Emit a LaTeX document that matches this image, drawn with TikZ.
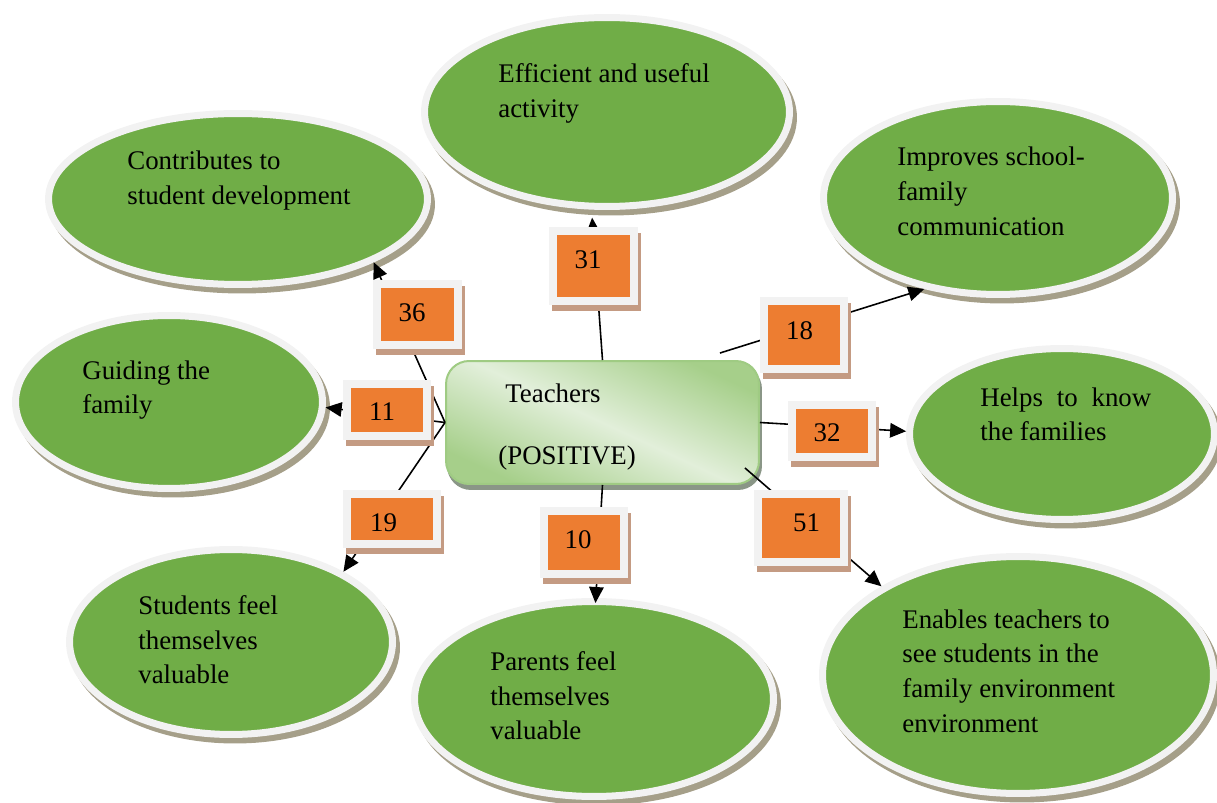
\documentclass[tikz,border=0pt]{standalone}
\usepackage{fontspec}
\setmainfont{Liberation Serif}
\usetikzlibrary{arrows.meta,shapes.geometric,calc}

\definecolor{leaf}{HTML}{70AD47}
\definecolor{rim}{HTML}{F2F2F2}
\definecolor{rimshade}{HTML}{A59F89}
\definecolor{tag}{HTML}{ED7D31}
\definecolor{tagshade}{HTML}{C49B83}
\definecolor{hubdark}{HTML}{A6CF8A}
\definecolor{hublight}{HTML}{E2EFDA}
\definecolor{hubedge}{HTML}{9FCB83}
\definecolor{hubshade}{HTML}{8A9687}

\begin{document}
\begin{tikzpicture}[x=0.02cm,y=-0.02cm,
  bubble/.style={ellipse, fill=leaf, draw=rim, line width=0.14cm, inner sep=0pt,
    preaction={fill=rimshade, draw=rimshade,
      transform canvas={xshift=0.08cm,yshift=-0.11cm}}},
  tagbox/.style={rectangle, fill=tag, draw=rim, line width=0.16cm, inner sep=0pt,
    preaction={fill=tagshade, draw=tagshade,
      transform canvas={xshift=0.06cm,yshift=-0.12cm}}},
  hubbox/.style={rectangle, rounded corners=0.46cm, draw=hubedge, line width=0.04cm,
    inner sep=0pt, shading=axis, top color=hubdark, bottom color=hubdark,
    middle color=hublight, shading angle=-25,
    preaction={fill=hubshade, draw=hubshade,
      transform canvas={xshift=0.04cm,yshift=-0.1cm}}},
  txt/.style={font=\fontsize{15.3}{19.8}\selectfont, inner sep=0pt, align=left,
    anchor=north west},
  num/.style={font=\fontsize{15.3}{19.8}\selectfont, inner sep=0pt},
  link/.style={line width=0.9pt, -{Triangle[length=0.32cm,width=0.29cm]}}]

\useasboundingbox (0,0) rectangle (1217,803);

% outcome bubbles
\node[bubble, minimum width=7.30cm, minimum height=3.78cm] (e1) at (607,112) {};
\node[bubble, minimum width=7.58cm, minimum height=3.42cm] (e2) at (238,199) {};
\node[bubble, minimum width=6.98cm, minimum height=3.86cm] (e3) at (998,198) {};
\node[bubble, minimum width=6.14cm, minimum height=3.46cm] (e4) at (169,402) {};
\node[bubble, minimum width=6.10cm, minimum height=3.42cm] (e5) at (1062,434) {};
\node[bubble, minimum width=6.46cm, minimum height=3.70cm] (e6) at (231,642) {};
\node[bubble, minimum width=7.18cm, minimum height=3.90cm] (e7) at (594,699) {};
\node[bubble, minimum width=7.82cm, minimum height=4.74cm] (e8) at (1018,675) {};

% bubble texts
\node[txt] (t1) at (498,63)  {Efficient and useful\\activity};
\node[txt] (t2) at (127,151) {Contributes to\\student development};
\node[txt] (t3) at (897,147) {Improves school-\\family\\communication};
\node[txt] (t4) at (82,360)  {Guiding the\\family};
\node[txt] (t5) at (980,387) {\makebox[3.42cm][s]{Helps to know}\\the families};
\node[txt] (t6) at (138,595) {Students feel\\themselves\\valuable};
\node[txt] (t7) at (490,651) {Parents feel\\themselves\\valuable};
\node[txt] (t8) at (902,609) {Enables teachers to\\see students in the\\family environment\\environment};

% central box
\node[hubbox, minimum width=6.26cm, minimum height=2.46cm] (hub) at (602.5,422.5) {};
\node[txt] (h1) at (505,383) {Teachers};
\node[txt] (h2) at (498,445) {(POSITIVE)};

\coordinate (h18) at ($(hub.north east)+(-40,-7)$);
\coordinate (h51) at ($(hub.south east)+(-15,-17)$);

% connectors
\draw[link, shorten >=0.16cm] (hub.north) -- (e1.261);
\draw[link] (hub.west)  -- (e2.335);
\draw[link] (hub.west)  -- (e4.358);
\draw[link] (hub.west)  -- (e6.32);
\draw[link, shorten >=-0.1cm] (hub.south) -- (e7.89);
\draw[link] (h18)       -- (e3.231);
\draw[link] (hub.east)  -- (e5.179);
\draw[link] (h51)       -- (e8.147);

% counts
\node[tagbox, minimum width=1.62cm, minimum height=1.40cm] (b31) at (593.5,266) {};
\node[tagbox, minimum width=1.62cm, minimum height=1.22cm] (b36) at (417.5,314.5) {};
\node[tagbox, minimum width=1.60cm, minimum height=1.04cm] (b11) at (387,410) {};
\node[tagbox, minimum width=1.80cm, minimum height=1.00cm] (b19) at (392,519) {};
\node[tagbox, minimum width=1.60cm, minimum height=1.26cm] (b10) at (584,542.5) {};
\node[tagbox, minimum width=1.60cm, minimum height=1.36cm] (b18) at (804,335) {};
\node[tagbox, minimum width=1.60cm, minimum height=1.04cm] (b32) at (832,431) {};
\node[tagbox, minimum width=1.72cm, minimum height=1.36cm] (b51) at (801,528) {};

\node[num] (n31) at (588,260)   {31};
\node[num] (n36) at (412,312.5) {36};
\node[num] (n11) at (382,412)   {11};
\node[num] (n19) at (383.5,522.5) {19};
\node[num] (n10) at (578,540)   {10};
\node[num] (n18) at (799.5,330.5) {18};
\node[num] (n32) at (827,433)   {32};
\node[num] (n51) at (806.5,523) {51};

\end{tikzpicture}
\end{document}
